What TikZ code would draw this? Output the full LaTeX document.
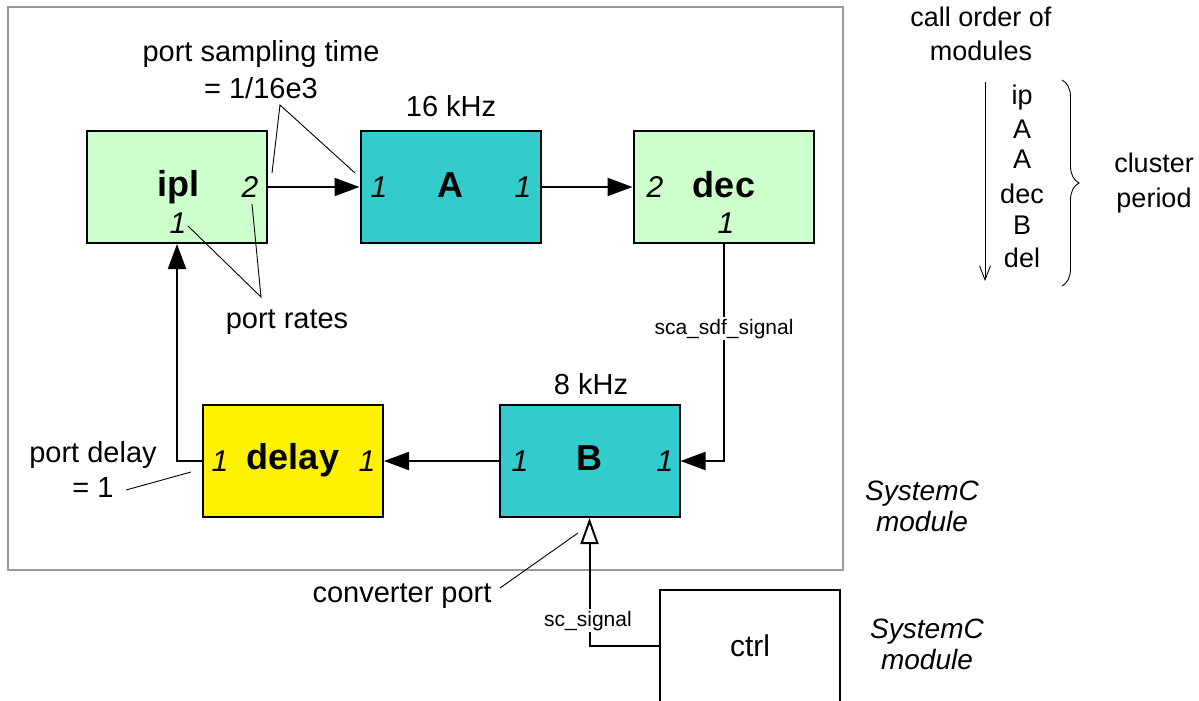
\documentclass[tikz,border=0pt]{standalone}
\usepackage{fontspec}
\setmainfont{Liberation Sans}
\usetikzlibrary{arrows.meta,decorations.pathreplacing}
\definecolor{lgreen}{HTML}{CCFFCC}
\definecolor{teal2}{HTML}{33CCCC}
\definecolor{frameg}{HTML}{999999}
\tikzset{
  box/.style={draw, line width=2pt, minimum width=180pt, minimum height=112pt, inner sep=0pt},
  lbl/.style={font=\fontsize{29}{34}\selectfont, inner sep=0pt, anchor=base},
  pix/.style={font=\fontsize{27}{30}\selectfont, inner sep=0pt, anchor=base},
  sml/.style={font=\fontsize{21}{24}\selectfont, inner sep=2pt, fill=white, anchor=base},
  portn/.style={font=\fontsize{30}{34}\selectfont\itshape, inner sep=0pt, anchor=base},
  mname/.style={font=\fontsize{36}{40}\selectfont\bfseries, inner sep=0pt, anchor=base},
  italbl/.style={font=\fontsize{28}{34}\selectfont\itshape, inner sep=0pt, anchor=base},
  arr/.style={line width=2pt, -{Triangle[length=25pt,width=18pt]}},
  oarr/.style={line width=2pt, -{Triangle[open,length=26pt,width=18pt,line width=2pt]}},
  ann/.style={line width=0.9pt},
}
\begin{document}
\begin{tikzpicture}[x=1pt,y=-1pt]
\useasboundingbox (0,0) rectangle (1199,701);
% outer SystemC frame
\draw[frameg, line width=2pt] (8,7) rectangle (843,570);

% boxes
\node[box, fill=lgreen] (ipl) at (177,187) {};
\node[box, fill=teal2] (A) at (450.5,187) {};
\node[box, fill=lgreen] (dec) at (723.5,187) {};
\node[box, fill=yellow] (delay) at (293,461) {};
\node[box, fill=teal2] (B) at (589.5,461) {};
\node[draw, line width=2pt, minimum width=180pt, minimum height=112pt, inner sep=0pt] (ctrl) at (750,646) {};

% box texts
\node[mname] (tipl) at (178,196) {ipl};
\node[portn] (ipl2) at (250,197) {2};
\node[portn] (ipl1) at (178,233) {1};
\node[portn] (A1) at (379,197) {1};
\node[mname] (tA) at (450,197) {A};
\node[portn] (A2) at (523,197) {1};
\node[portn] (dec2) at (655,197) {2};
\node[mname] (tdec) at (724,197) {dec};
\node[portn] (dec1) at (726,233) {1};
\node[portn] (del1) at (220,471) {1};
\node[mname] (tdelay) at (293,469) {delay};
\node[portn] (del2) at (367,471) {1};
\node[portn] (B1) at (520,471) {1};
\node[mname] (tB) at (589,470) {B};
\node[portn] (B2) at (665,471) {1};
\node[font=\fontsize{30}{34}\selectfont, inner sep=0pt, anchor=base] (tctrl) at (750,656) {ctrl};

% frequency labels
\node[lbl] (f16) at (451,116) {16 kHz};
\node[lbl] (f8) at (591,394) {8 kHz};

% connectors
\draw[arr] (ipl.east) -- (A.west);
\draw[arr] (A.east) -- (dec.west);
\draw[arr] (dec.south) |- (B.east);
\draw[arr] (B.west) -- (delay.east);
\draw[arr] (delay.west) -| (ipl.south);
\draw[oarr] (ctrl.west) -| (B.south);

% signal labels
\node[sml] (sdf) at (724,334) {sca\_sdf\_signal};
\node[sml] (scs) at (588,626) {sc\_signal};

% annotations
\node[lbl] (pst1) at (261,62) {port sampling time};
\node[lbl] (pst2) at (261,98) {= 1/16e3};
\coordinate (pstc) at (280,105);
\coordinate (pstA) at (272,173);
\coordinate (pstB) at (355,173);
\draw[ann] (pstA) -- (pstc) -- (pstB);

\node[lbl] (prt) at (287,328) {port rates};
\coordinate (prc) at (261,297);
\coordinate (pr1) at (188,226);
\coordinate (pr2) at (252,204);
\draw[ann] (pr1) -- (prc) -- (pr2);

\node[lbl] (pd1) at (93,462) {port delay};
\node[lbl] (pd2) at (93,497) {= 1};
\coordinate (pdc) at (126,490);
\coordinate (pde) at (191,472);
\draw[ann] (pdc) -- (pde);

\node[lbl] (cvp) at (402,602) {converter port};
\coordinate (cvc) at (500,588);
\coordinate (cve) at (578,533);
\draw[ann] (cvc) -- (cve);

\node[italbl] (sc1) at (922,500) {SystemC};
\node[italbl] (sc2) at (922,531) {module};
\node[italbl] (sc3) at (927,638) {SystemC};
\node[italbl] (sc4) at (927,669) {module};

% call order
\node[pix] (co1) at (981,27) {call order of};
\node[pix] (co2) at (981,60) {modules};
\coordinate (cotop) at (985,82);
\coordinate (cobot) at (985,281);
\draw[line width=0.9pt, -{Straight Barb[length=14pt,width=11pt,line width=0.9pt]}] (cotop) -- (cobot);
\node[pix] (l1) at (1022,104) {ip};
\node[pix] (l2) at (1022,138) {A};
\node[pix] (l3) at (1022,168) {A};
\node[pix] (l4) at (1022,203) {dec};
\node[pix] (l5) at (1022,234) {B};
\node[pix] (l6) at (1022,267) {del};
\coordinate (brt) at (1062,80);
\coordinate (brb) at (1062,286);
\draw[line width=0.9pt, decorate, decoration={brace, amplitude=17pt}] (brt) -- (brb);
\node[pix] (cl1) at (1154,172) {cluster};
\node[pix] (cl2) at (1154,207) {period};
\end{tikzpicture}
\end{document}
